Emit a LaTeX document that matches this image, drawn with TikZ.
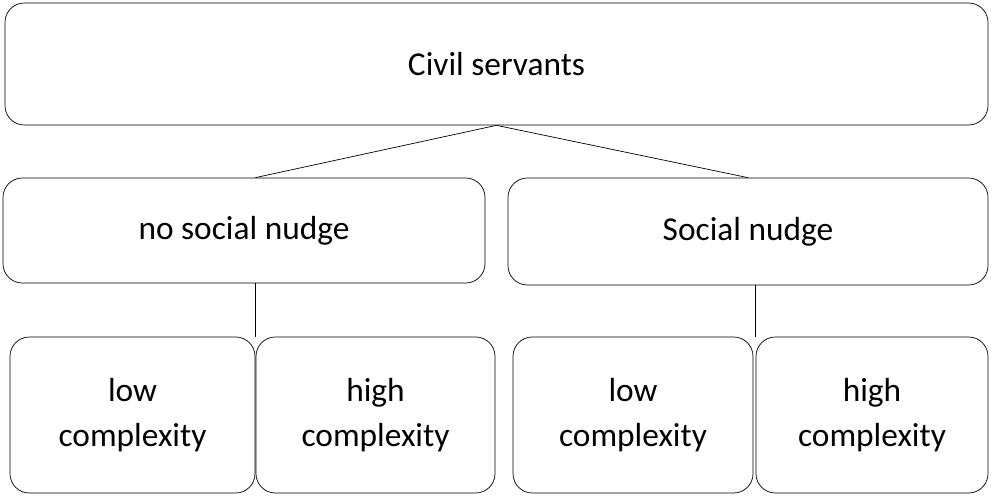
\documentclass[tikz,border=0pt]{standalone}
\usepackage{fontspec}
\setmainfont{Carlito}
\begin{document}
\begin{tikzpicture}[x=0.02cm,y=-0.02cm,
   box/.style={draw,rounded corners=11pt,inner sep=2pt,align=center,
               font=\fontsize{19}{26}\selectfont}]
   \useasboundingbox (0,0) rectangle (1000,497);
   \node [box,minimum width=983*0.02cm,minimum height=122*0.02cm] (civil) at (496.5,64) {Civil servants};
   \node [box,minimum width=482*0.02cm,minimum height=105*0.02cm] (nonudge) at (244,230.5) {no social nudge};
   \node [box,minimum width=480*0.02cm,minimum height=107*0.02cm] (nudge) at (748,231.5) {Social nudge};
   \node [box,minimum width=245*0.02cm,minimum height=156*0.02cm] (lowA) at (132.5,415) {low\\complexity};
   \node [box,minimum width=239*0.02cm,minimum height=156*0.02cm] (highA) at (375.5,415) {high\\complexity};
   \node [box,minimum width=240*0.02cm,minimum height=156*0.02cm] (lowB) at (633,415) {low\\complexity};
   \node [box,minimum width=232*0.02cm,minimum height=156*0.02cm] (highB) at (872,415) {high\\complexity};
   \draw (civil.south) -- (nonudge.north -| lowA.east);
   \draw (civil.south) -- (nudge.north);
   \draw (nonudge.south -| lowA.east) -- (lowA.north east);
   \draw (nudge.south -| highB.west) -- (highB.north west);
\end{tikzpicture}
\end{document}
